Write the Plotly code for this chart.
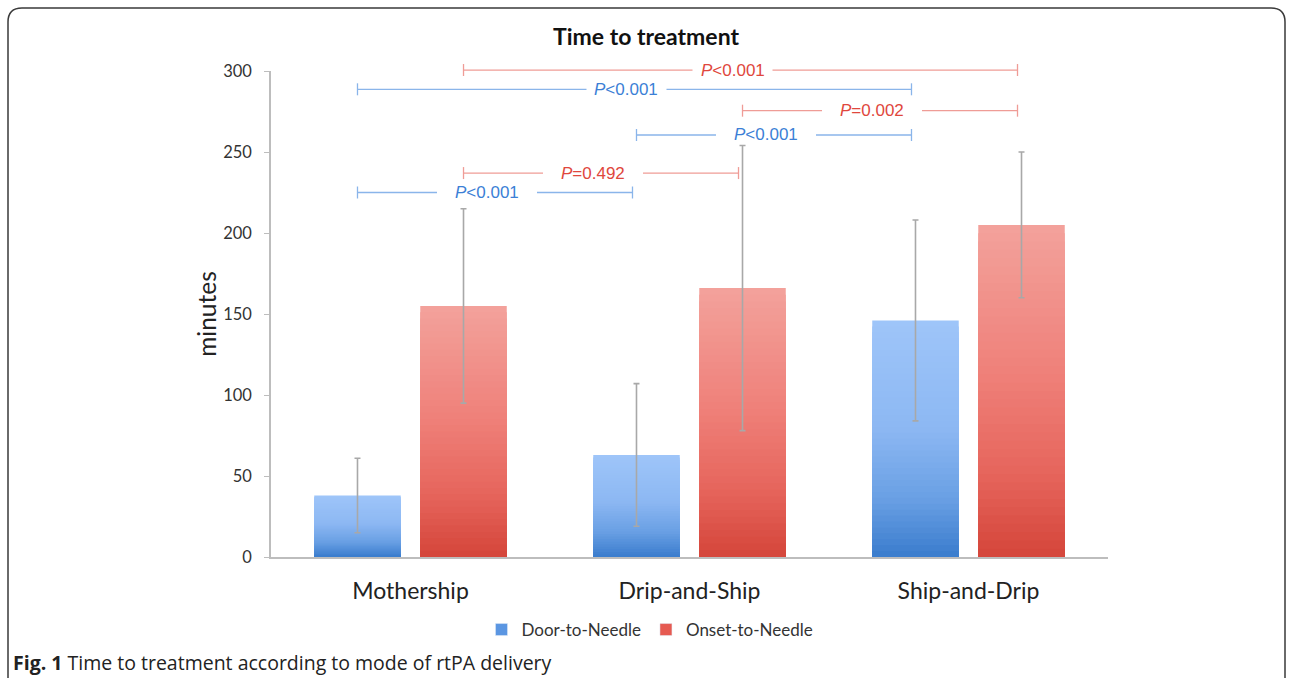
import plotly.graph_objects as go
from plotly.colors import sample_colorscale

# ---------------- data ----------------
categories = ["Mothership", "Drip-and-Ship", "Ship-and-Drip"]
door_mean = [38, 63, 146]
door_sd = [23, 44, 62]
onset_mean = [155, 166, 205]
onset_sd = [60, 88, 45]
series_names = ["Door-to-Needle", "Onset-to-Needle"]
y_ticks = [0, 50, 100, 150, 200, 250, 300]

# significance brackets
bracket_from_cat = [0, 0, 1, 1, 0, 0]
bracket_to_cat = [1, 1, 2, 2, 2, 2]
bracket_series = [0, 1, 0, 1, 0, 1]      # 0 = door, 1 = onset
bracket_y = [225, 237, 260.5, 275.5, 288.7, 300.6]
bracket_label = ["<i>P</i><0.001", "<i>P</i>=0.492", "<i>P</i><0.001",
                 "<i>P</i>=0.002", "<i>P</i><0.001", "<i>P</i><0.001"]

# ---------------- layout constants ----------------
W, H = 1293, 678
ML, MR, MT, MB = 271, 185, 71, 121
PW, PH = W - ML - MR, H - MT - MB
XMIN, XMAX = -0.5, 2.5
YMIN, YMAX = 0, 300
BAR_W = 0.31
OFFS = [-0.19, 0.19]

blue_scale = [[0, "#3a7ccd"], [0.25, "#6aa0e4"], [0.55, "#8db8f3"], [1, "#9ec5f9"]]
red_scale = [[0, "#d4453a"], [0.25, "#e6655c"], [0.55, "#ef8079"], [1, "#f3a29c"]]
scales = [blue_scale, red_scale]
line_cols = ["#8ab5ea", "#ef9c96"]
text_cols = ["#3c7fd6", "#e0473d"]
means = [door_mean, onset_mean]
sds = [door_sd, onset_sd]
legend_cols = ["#5b96e2", "#e65a51"]


def px_x(px):
    return (px - ML) / PW


def px_y(py):
    return (H - MB - py) / PH


def xp(xv):
    return (xv - XMIN) / (XMAX - XMIN)


def yp(yv):
    return (yv - YMIN) / (YMAX - YMIN)


fig = go.Figure()

# gradient bars built from stacked layers of the same values
N = 40
for s in range(2):
    cols = sample_colorscale(scales[s], [1 - (k + 0.5) / N for k in range(N)])
    for k in range(N):
        frac = 1 - k / N
        fig.add_trace(go.Bar(
            x=categories,
            y=[v * frac for v in means[s]],
            width=BAR_W,
            offset=OFFS[s] - BAR_W / 2,
            marker=dict(color=cols[k], line=dict(width=0)),
            showlegend=False,
            hoverinfo="skip",
        ))

# legend entries
for s in range(2):
    fig.add_trace(go.Bar(
        x=categories, y=[None] * 3, name=series_names[s],
        marker=dict(color=legend_cols[s]), showlegend=True,
    ))

# error bars on top
for s in range(2):
    fig.add_trace(go.Bar(
        x=categories, y=means[s], width=BAR_W, offset=OFFS[s] - BAR_W / 2,
        marker=dict(color="rgba(0,0,0,0)", line=dict(width=0)),
        error_y=dict(type="data", array=sds[s], visible=True,
                     color="#a8a8a8", thickness=1.6, width=3),
        showlegend=False, name=series_names[s],
        hovertemplate="%{x}: %{y}<extra>" + series_names[s] + "</extra>",
    ))

shapes = []
annotations = []
px_per_unit = PW / (XMAX - XMIN)
tick_half = 6 / PH  # paper units
for i in range(len(bracket_y)):
    s = bracket_series[i]
    xa = bracket_from_cat[i] + OFFS[s]
    xb = bracket_to_cat[i] + OFFS[s] - 4 / px_per_unit
    span_px = (xb - xa) * px_per_unit
    gap_half = (50 if span_px < 400 else 40) / px_per_unit
    mid = (xa + xb) / 2 - 8 / px_per_unit
    y = yp(bracket_y[i])
    lc = line_cols[s]
    for (x0, x1) in [(xa, mid - gap_half), (mid + gap_half, xb)]:
        shapes.append(dict(type="line", xref="paper", yref="paper",
                           x0=xp(x0), x1=xp(x1), y0=y, y1=y,
                           line=dict(color=lc, width=1.3)))
    for xe in (xa, xb):
        shapes.append(dict(type="line", xref="paper", yref="paper",
                           x0=xp(xe), x1=xp(xe), y0=y - tick_half, y1=y + tick_half,
                           line=dict(color=lc, width=1.3)))
    annotations.append(dict(xref="paper", yref="paper", x=xp(mid), y=y,
                            text=bracket_label[i], showarrow=False,
                            xanchor="center", yanchor="middle",
                            font=dict(family="Liberation Sans", size=17,
                                      color=text_cols[s])))

# rounded border frame
r = 14
L, T, R, B = 8, 8, 1285, 700
path = (f"M {px_x(L)},{px_y(B)} L {px_x(L)},{px_y(T + r)} "
        f"Q {px_x(L)},{px_y(T)} {px_x(L + r)},{px_y(T)} "
        f"L {px_x(R - r)},{px_y(T)} Q {px_x(R)},{px_y(T)} {px_x(R)},{px_y(T + r)} "
        f"L {px_x(R)},{px_y(B)}")
shapes.append(dict(type="path", xref="paper", yref="paper", path=path,
                   line=dict(color="#3a3a3a", width=1.5)))

# title
annotations.append(dict(xref="paper", yref="paper", x=px_x(646), y=px_y(36),
                        text="<b>Time to treatment</b>", showarrow=False,
                        xanchor="center", yanchor="middle",
                        font=dict(family="Lato", size=23, color="#111")))
# caption
annotations.append(dict(xref="paper", yref="paper", x=px_x(11), y=px_y(662),
                        text="<b>Fig. 1</b> Time to treatment according to mode of rtPA delivery",
                        showarrow=False, xanchor="left", yanchor="middle",
                        font=dict(family="Open Sans", size=19.5, color="#222")))

fig.update_layout(
    width=W, height=H,
    margin=dict(l=ML, r=MR, t=MT, b=MB),
    paper_bgcolor="white", plot_bgcolor="white",
    barmode="overlay",
    shapes=shapes, annotations=annotations,
    font=dict(family="Lato", color="#333"),
    legend=dict(orientation="h", x=px_x(650), y=px_y(630), xanchor="center",
                yanchor="middle", font=dict(family="Lato", size=17, color="#333"),
                itemwidth=30, tracegroupgap=0),
    xaxis=dict(range=[XMIN, XMAX], showline=True, linecolor="#bdbdbd", linewidth=1.5,
               ticks="", showgrid=False, zeroline=False,
               tickfont=dict(family="Lato", size=23, color="#222"),
               ticklabelstandoff=13),
    yaxis=dict(range=[YMIN, YMAX], tickvals=y_ticks, showline=True, linecolor="#bdbdbd",
               linewidth=1.5, ticks="outside", ticklen=5, tickcolor="#bdbdbd",
               showgrid=False, zeroline=False,
               tickfont=dict(family="Lato", size=16.5, color="#333"),
               ticklabelstandoff=9,
               title=dict(text="minutes", font=dict(family="Lato", size=24.5, color="#222"),
                          standoff=0)),
)

fig.write_html("out.html", config={"displayModeBar": False},
               post_script="document.body.style.margin='0';")
